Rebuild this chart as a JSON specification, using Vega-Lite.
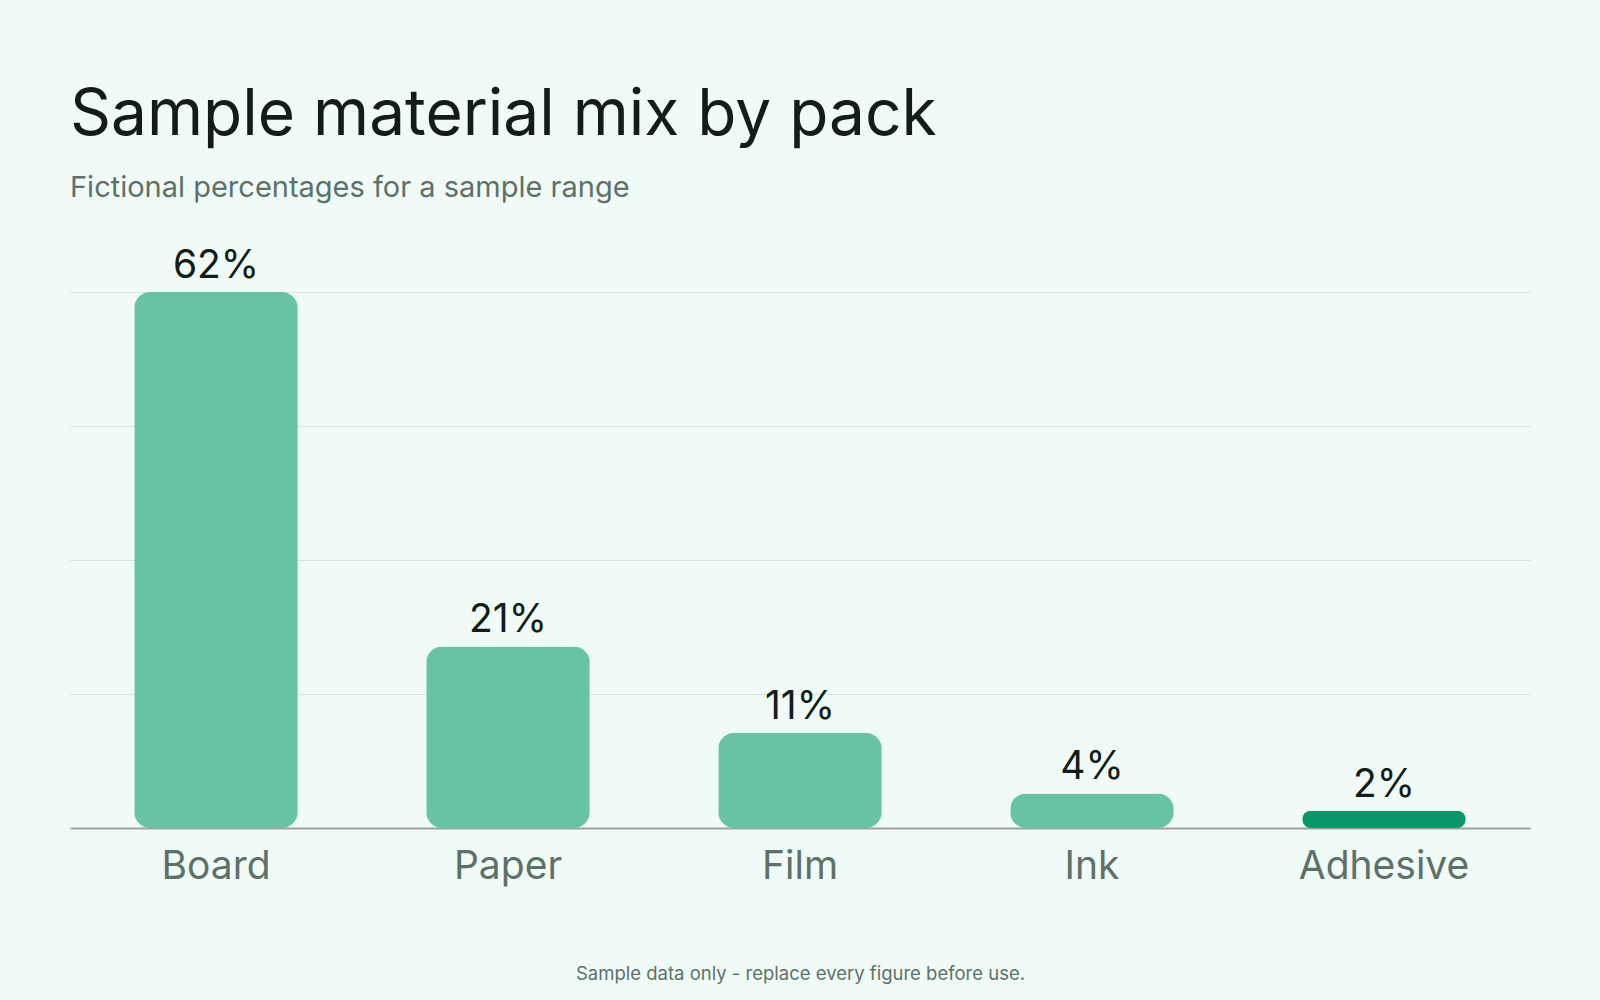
{
  "$schema": "https://vega.github.io/schema/vega-lite/v6.json",
  "width": 1460,
  "height": 536,
  "autosize": "none",
  "padding": {"left": 70, "top": 292, "right": 70, "bottom": 172},
  "background": "#f0faf6",
  "title": {
    "text": "Sample material mix by pack",
    "subtitle": "Fictional percentages for a sample range",
    "anchor": "start",
    "frame": "group",
    "font": "Inter",
    "fontSize": 64,
    "fontWeight": 400,
    "color": "#121c18",
    "subtitleFont": "Inter",
    "subtitleFontSize": 29,
    "subtitleColor": "#5e7169",
    "subtitlePadding": 26,
    "offset": 44
  },
  "data": {
    "values": [
      {"material": "Board", "share": 0.62, "highlight": "no"},
      {"material": "Paper", "share": 0.21, "highlight": "no"},
      {"material": "Film", "share": 0.11, "highlight": "no"},
      {"material": "Ink", "share": 0.04, "highlight": "no"},
      {"material": "Adhesive", "share": 0.02, "highlight": "yes"}
    ]
  },
  "encoding": {
    "x": {
      "field": "material",
      "type": "nominal",
      "sort": null,
      "scale": {"paddingInner": 0.44, "paddingOuter": 0.22},
      "axis": {
        "title": "Sample data only - replace every figure before use.",
        "titleFont": "Inter",
        "titleFontSize": 18.5,
        "titleFontWeight": 400,
        "titleColor": "#5e7169",
        "titlePadding": 78,
        "labelAngle": 0,
        "labelFont": "Inter",
        "labelFontSize": 39,
        "labelColor": "#5e7169",
        "labelPadding": 19,
        "ticks": false,
        "domainColor": "#9aa39f",
        "domainWidth": 2
      }
    },
    "y": {
      "field": "share",
      "type": "quantitative",
      "scale": {"domain": [0, 0.62], "nice": false},
      "axis": {
        "title": null,
        "labels": false,
        "ticks": false,
        "domain": false,
        "values": [0, 0.155, 0.31, 0.465, 0.62],
        "gridColor": "#d9e3df",
        "gridWidth": 1
      }
    }
  },
  "layer": [
    {
      "mark": {"type": "bar", "cornerRadius": 16},
      "encoding": {
        "color": {
          "field": "highlight",
          "type": "nominal",
          "scale": {"domain": ["no", "yes"], "range": ["#67c2a6", "#079669"]},
          "legend": null
        }
      }
    },
    {
      "mark": {"type": "text", "baseline": "alphabetic", "dy": -14, "font": "Inter", "fontSize": 39, "color": "#121c18"},
      "encoding": {
        "text": {"field": "share", "type": "quantitative", "format": ".0%"}
      }
    }
  ],
  "config": {"view": {"stroke": null}}
}
